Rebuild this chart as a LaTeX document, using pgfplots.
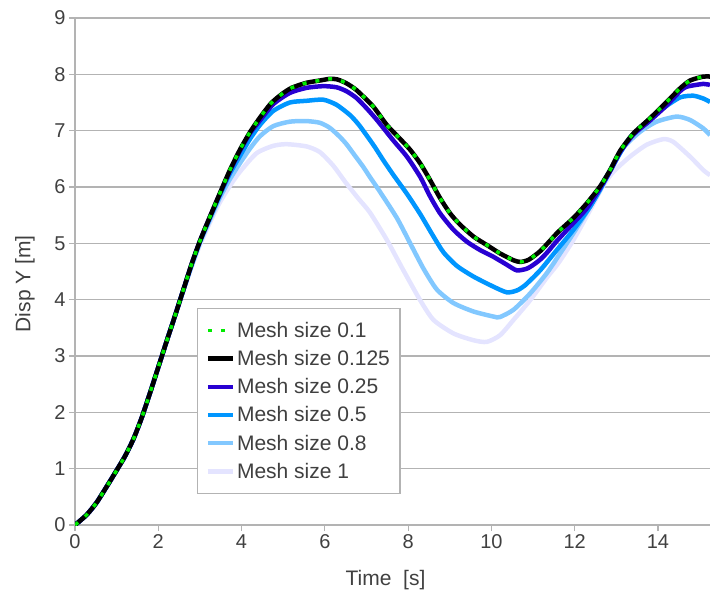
\documentclass[border=0pt]{standalone}
\usepackage{pgfplots}
\pgfplotsset{compat=1.18}
\usepackage{fontspec}
\setmainfont{Liberation Sans}
\definecolor{txt}{RGB}{64,64,64}
\definecolor{gridc}{RGB}{179,179,179}
\definecolor{cgreen}{RGB}{0,235,0}
\definecolor{cdark}{RGB}{40,0,210}
\definecolor{cmed}{RGB}{0,150,255}
\definecolor{clight}{RGB}{130,200,255}
\definecolor{clav}{RGB}{228,228,255}

\pgfplotstableread{
x y
0 0
0.28 0.18
0.52 0.40
0.76 0.68
1.0 0.97
1.2 1.22
1.4 1.52
1.6 1.90
1.8 2.34
2.0 2.80
2.2 3.26
2.4 3.71
2.6 4.17
2.8 4.63
3.0 5.04
3.24 5.47
3.48 5.89
3.72 6.30
3.96 6.66
4.2 6.97
4.44 7.23
4.7 7.48
4.95 7.64
5.2 7.76
5.56 7.85
5.88 7.89
6.12 7.92
6.3 7.91
6.52 7.84
6.76 7.72
7.16 7.43
7.49 7.10
7.8 6.86
8.05 6.66
8.29 6.42
8.53 6.12
8.77 5.80
9.01 5.53
9.25 5.33
9.57 5.12
9.89 4.97
10.21 4.82
10.53 4.70
10.7 4.67
10.9 4.71
11.17 4.86
11.4 5.04
11.6 5.20
11.97 5.45
12.29 5.71
12.61 6.01
12.85 6.30
13.09 6.64
13.41 6.95
13.81 7.22
14.21 7.51
14.53 7.75
14.77 7.89
15.09 7.96
15.25 7.96
}\tabA

\pgfplotstableread{
x y
0 0
0.28 0.18
0.52 0.40
0.76 0.68
1.0 0.97
1.2 1.22
1.4 1.52
1.6 1.90
1.8 2.34
2.0 2.80
2.2 3.26
2.4 3.71
2.6 4.17
2.8 4.63
3.0 5.04
3.24 5.47
3.48 5.88
3.72 6.28
3.96 6.64
4.2 6.95
4.44 7.18
4.76 7.47
5.16 7.67
5.56 7.76
5.96 7.79
6.28 7.77
6.52 7.70
6.76 7.58
7.0 7.40
7.25 7.19
7.64 6.83
7.97 6.54
8.29 6.18
8.53 5.83
8.77 5.53
9.09 5.24
9.41 5.03
9.73 4.88
10.05 4.76
10.37 4.62
10.61 4.52
10.85 4.55
11.01 4.62
11.17 4.71
11.33 4.83
11.57 5.04
11.97 5.36
12.29 5.62
12.61 5.98
12.85 6.28
13.09 6.62
13.41 6.93
13.81 7.18
14.21 7.45
14.53 7.70
14.69 7.78
15.09 7.83
15.25 7.81
}\tabB

\pgfplotstableread{
x y
0 0
0.28 0.18
0.52 0.40
0.76 0.68
1.0 0.97
1.2 1.22
1.4 1.52
1.6 1.90
1.8 2.34
2.0 2.80
2.2 3.26
2.4 3.71
2.6 4.17
2.8 4.62
3.0 5.03
3.24 5.45
3.48 5.86
3.72 6.24
3.96 6.55
4.2 6.85
4.44 7.10
4.76 7.35
5.16 7.50
5.56 7.53
5.96 7.55
6.28 7.46
6.60 7.28
6.80 7.12
7.0 6.92
7.2 6.71
7.4 6.48
7.64 6.22
7.97 5.88
8.29 5.52
8.61 5.12
8.85 4.84
9.17 4.60
9.57 4.41
10.05 4.23
10.37 4.13
10.6 4.16
10.8 4.25
11.17 4.52
11.57 4.88
11.97 5.24
12.37 5.65
12.61 5.95
12.85 6.28
13.09 6.60
13.33 6.88
13.73 7.16
14.13 7.40
14.53 7.59
14.85 7.62
15.09 7.57
15.25 7.51
}\tabC

\pgfplotstableread{
x y
0 0
0.28 0.18
0.52 0.40
0.76 0.68
1.0 0.97
1.2 1.22
1.4 1.52
1.6 1.90
1.8 2.34
2.0 2.80
2.2 3.26
2.4 3.71
2.6 4.16
2.8 4.60
3.0 5.01
3.24 5.42
3.48 5.81
3.72 6.14
3.96 6.42
4.2 6.68
4.44 6.90
4.76 7.08
5.16 7.16
5.56 7.17
5.88 7.14
6.12 7.05
6.36 6.89
6.52 6.76
6.68 6.60
6.92 6.36
7.08 6.18
7.32 5.92
7.73 5.45
8.05 5.00
8.37 4.55
8.69 4.18
9.09 3.94
9.57 3.79
10.05 3.70
10.2 3.69
10.53 3.82
10.93 4.11
11.33 4.47
11.65 4.82
11.97 5.18
12.37 5.65
12.61 6.00
12.85 6.30
13.17 6.70
13.57 6.98
13.97 7.16
14.45 7.25
14.77 7.19
15.09 7.04
15.25 6.92
}\tabD

\pgfplotstableread{
x y
0 0
0.28 0.18
0.52 0.40
0.76 0.68
1.0 0.97
1.2 1.22
1.4 1.52
1.6 1.90
1.8 2.34
2.0 2.80
2.2 3.26
2.4 3.71
2.6 4.15
2.8 4.58
3.0 4.97
3.24 5.37
3.48 5.73
3.72 6.02
3.96 6.27
4.36 6.60
4.76 6.73
5.08 6.76
5.56 6.72
5.88 6.62
6.2 6.38
6.5 6.08
6.8 5.80
7.08 5.55
7.49 5.06
7.88 4.53
8.29 3.99
8.61 3.64
9.09 3.40
9.57 3.28
9.89 3.25
10.21 3.37
10.53 3.64
10.93 3.99
11.33 4.39
11.6 4.64
11.97 5.06
12.37 5.59
12.69 6.03
12.93 6.27
13.33 6.54
13.73 6.75
14.13 6.85
14.37 6.80
14.77 6.54
15.09 6.30
15.25 6.21
}\tabE

\begin{document}
\begin{tikzpicture}
\begin{axis}[
  scale only axis,
  width=635bp, height=507bp,
  xmin=0, xmax=15.25, ymin=0, ymax=9,
  axis lines*=left,
  axis line style={gridc, line width=1.2bp},
  xtick={0,2,...,14}, ytick={0,1,...,9},
  tick align=outside,
  major tick length=6bp,
  tick style={gridc, line width=1.2bp},
  ymajorgrids,
  grid style={gridc, line width=1.2bp},
  /pgf/number format/assume math mode=true,
  tick label style={font=\fontsize{20bp}{24bp}\selectfont, text=txt},
  xlabel={Time~~[s]},
  ylabel={Disp Y [m]},
  label style={font=\fontsize{21bp}{25bp}\selectfont, text=txt},
  xlabel style={at={(axis description cs:0.489,-0.1085)}, anchor=center},
  ylabel style={at={(axis description cs:-0.079,0.4756)}, anchor=center, rotate=0},
  legend image code/.code={\draw[#1] (0bp,0bp) -- (25bp,0bp);},
  legend style={at={(axis description cs:0.192,0.428)}, anchor=north west,
    draw=gridc, line width=1.2bp, fill=white, text=txt,
    font=\fontsize{21bp}{25bp}\selectfont, row sep=7.5bp, inner xsep=8bp, inner ysep=11.5bp,
    cells={anchor=west}},
  reverse legend,
  every axis plot/.append style={smooth, tension=0.4, line join=round},
]
\coordinate (SW) at (rel axis cs:0,0);
\coordinate (NE) at (rel axis cs:1,1);
\addplot[clav, line width=4.5bp] table[x=x,y=y] {\tabE};
\addlegendentry{Mesh size 1}
\addplot[clight, line width=4.5bp] table[x=x,y=y] {\tabD};
\addlegendentry{Mesh size 0.8}
\addplot[cmed, line width=4.5bp] table[x=x,y=y] {\tabC};
\addlegendentry{Mesh size 0.5}
\addplot[cdark, line width=4.5bp] table[x=x,y=y] {\tabB};
\addlegendentry{Mesh size 0.25}
\addplot[black, line width=4.5bp] table[x=x,y=y] {\tabA};
\addlegendentry{Mesh size 0.125}
\addplot[cgreen, line width=3.5bp, dash pattern=on 4bp off 9bp] table[x=x,y=y] {\tabA};
\addlegendentry{Mesh size 0.1}
\end{axis}
\pgfresetboundingbox
\useasboundingbox ([xshift=-75bp,yshift=-72bp]SW) rectangle ([yshift=18bp]NE);
\end{tikzpicture}
\end{document}
